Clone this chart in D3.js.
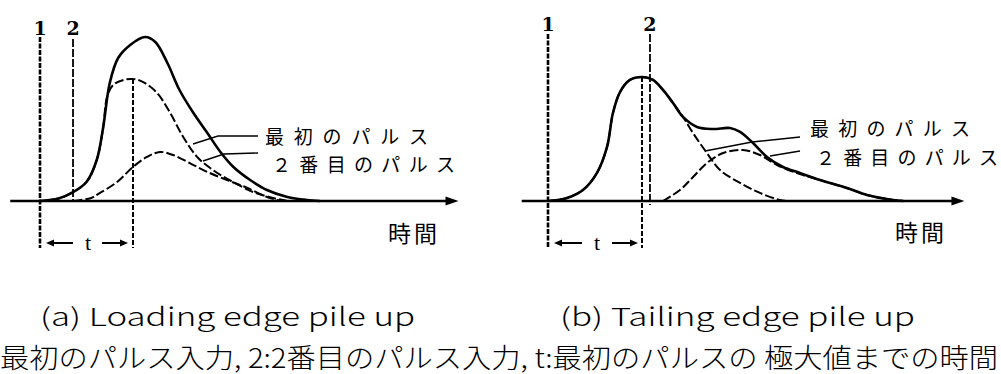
<!DOCTYPE html>
<html><head><meta charset="utf-8">
<script src="https://cdn.jsdelivr.net/npm/d3@7"></script>
<style>html,body{margin:0;padding:0;background:#fff;}svg{display:block;}</style>
</head><body><svg id="c" width="1001" height="374"></svg>
<script>
// ---- Data (time in units where t = 10, amplitude relative to first pulse peak) ----
// Panel (a): leading edge pile up
const sumTimeA   = [0, 2, 3.4, 5, 6.1, 6.8, 7.5, 8.4, 9.7, 11.3, 12.4, 13.7, 15, 16.5, 18, 19.4, 20.8, 22.6, 24.4, 26.6, 28.7, 30.1];
const sumValA    = [0, 0.02, 0.066, 0.156, 0.336, 0.607, 0.967, 1.172, 1.279, 1.344, 1.303, 1.131, 0.91, 0.721, 0.557, 0.402, 0.279, 0.172, 0.09, 0.033, 0.008, 0];
const firstTimeA = [0, 2, 3.4, 5, 6.1, 6.8, 7.2, 7.85, 8.9, 10, 11.1, 12.6, 14, 15.4, 16.9, 18.6, 20.75, 22.9, 25.05, 26.6];
const firstValA  = [0, 0.02, 0.066, 0.156, 0.336, 0.607, 0.85, 0.95, 0.99, 1.0, 0.975, 0.885, 0.721, 0.525, 0.361, 0.254, 0.156, 0.074, 0.025, 0];
const secondTimeA = [3.6, 5.5, 6.45, 8.3, 10, 11.5, 12.9, 14.3, 16.1, 18, 20.1, 22.3, 24.4, 25.5, 25.9];
const secondValA  = [0, 0.025, 0.066, 0.156, 0.279, 0.361, 0.402, 0.377, 0.311, 0.238, 0.172, 0.107, 0.033, 0.008, 0];
// Panel (b): tailing edge pile up
const sumTimeB   = [0, 2.02, 3.72, 5.21, 6.28, 6.91, 7.66, 8.72, 10, 11.17, 12.23, 13.3, 14.36, 15.85, 17.55, 19.36, 20.43, 21.81, 23.3, 25, 26.8, 28.94, 31.8, 33.94, 36.7, 37.8];
const sumValB    = [0, 0.025, 0.09, 0.23, 0.443, 0.721, 0.893, 0.992, 1.016, 0.992, 0.91, 0.803, 0.689, 0.607, 0.59, 0.598, 0.566, 0.475, 0.361, 0.279, 0.23, 0.172, 0.107, 0.049, 0.008, 0];
const firstTimeB = [0, 2.02, 3.72, 5.21, 6.28, 6.91, 7.66, 8.72, 10, 11.17, 12.23, 13.3, 14.36, 15.43, 16.91, 18.3, 20.43, 22.55, 24.68, 25.7];
const firstValB  = [0, 0.025, 0.09, 0.23, 0.443, 0.721, 0.893, 0.992, 1.016, 0.992, 0.91, 0.803, 0.689, 0.557, 0.393, 0.254, 0.148, 0.066, 0.008, 0];
const secondTimeB = [12.23, 14.04, 15.43, 16.91, 18.62, 20.74, 22.55, 24.36, 26.8, 28.94, 31.8, 33.94, 36.7, 37.8];
const secondValB  = [0, 0.09, 0.197, 0.311, 0.393, 0.418, 0.377, 0.295, 0.22, 0.172, 0.107, 0.049, 0.008, 0];
// Marker times: input 1, input 2, first-pulse maximum
const markerTimesA = [0, 3.55, 10];
const markerTimesB = [0, 10.85, 10];
const markerLabels = ["1", "2"];
const legendLabels = ["最初のパルス", "２番目のパルス"];
const axisLabel = "時間";
const tLabel = "t";
const captions = ["(a) Loading edge pile up", "(b) Tailing edge pile up"];
const footnote = "最初のパルス入力, 2:2番目のパルス入力, t:最初のパルスの 極大値までの時間";

const svg = d3.select("#c");
const y = d3.scaleLinear().domain([0, 1]).range([201, 79]);

const panels = [
  {x: d3.scaleLinear().domain([0, 10]).range([40, 133]), axis: [-3.2, 45],
   sum: [sumTimeA, sumValA], first: [firstTimeA, firstValA], second: [secondTimeA, secondValA],
   markers: markerTimesA, labelY: 28, top1: 37, top2: 39, line2Bottom: 201,
   leaders: [[[258,136],[218,136],[193,144]], [[258,153],[224,154],[203,161]]],
   legendPos: [[265,135,163],[272,163,183]], timePos: [388,232], arrowY: 243,
   tArrows: [46,73,88,102,128], caption: [40, 315, 375]},
  {x: d3.scaleLinear().domain([0, 10]).range([548, 642]), axis: [-2.8, 44.3],
   sum: [sumTimeB, sumValB], first: [firstTimeB, firstValB], second: [secondTimeB, secondValB],
   markers: markerTimesB, labelY: 24, top1: 34, top2: 34, line2Bottom: 205,
   leaders: [[[800,137],[752,142],[705,151]], [[800,151],[770,156]]],
   legendPos: [[810,127,160],[816,156,182]], timePos: [895,231], arrowY: 243,
   tArrows: [554,582,597,612,638], caption: [560, 315, 355]}
];

const line = xs => d3.line().x(d => xs(d[0])).y(d => y(d[1])).curve(d3.curveCatmullRom.alpha(0.5));
const zipPts = (t, v) => t.map((tt, i) => [tt, v[i]]);

panels.forEach(p => {
  const g = svg.append("g");
  // time axis with arrow
  const ax0 = p.x(p.axis[0]), ax1 = p.x(p.axis[1]);
  g.append("line").attr("x1", ax0).attr("x2", ax1 - 6).attr("y1", y(0)).attr("y2", y(0))
    .attr("stroke", "#000").attr("stroke-width", 2.4);
  g.append("path").attr("d", `M${ax1},${y(0)} L${ax1-13},${y(0)-4.5} L${ax1-13},${y(0)+4.5} Z`).attr("fill", "#000");

  // marker lines
  const m1 = p.x(p.markers[0]), m2 = p.x(p.markers[1]), mp = p.x(p.markers[2]);
  g.append("line").attr("x1", m1).attr("x2", m1).attr("y1", p.top1).attr("y2", 248)
    .attr("stroke", "#000").attr("stroke-width", 2.6).attr("stroke-dasharray", "5,1.5");
  g.append("line").attr("x1", m2).attr("x2", m2).attr("y1", p.top2).attr("y2", p.line2Bottom)
    .attr("stroke", "#000").attr("stroke-width", 1.8).attr("stroke-dasharray", "8,2");
  const peakVal = p.first[1][p.first[0].indexOf(p.markers[2])];
  g.append("line").attr("x1", mp).attr("x2", mp).attr("y1", y(peakVal)).attr("y2", 248)
    .attr("stroke", "#000").attr("stroke-width", 2).attr("stroke-dasharray", "5,2");
  [m1, m2].forEach((mx, i) => g.append("text").attr("x", mx).attr("y", p.labelY)
    .attr("text-anchor", "middle").attr("dominant-baseline", "central")
    .attr("font-family", "DejaVu Serif, Liberation Serif, serif").attr("font-weight", "bold")
    .attr("font-size", 19).text(markerLabels[i]));

  // pulses
  g.append("path").attr("d", line(p.x)(zipPts(...p.first))).attr("fill", "none")
    .attr("stroke", "#000").attr("stroke-width", 2).attr("stroke-dasharray", "9,3");
  g.append("path").attr("d", line(p.x)(zipPts(...p.second))).attr("fill", "none")
    .attr("stroke", "#000").attr("stroke-width", 2).attr("stroke-dasharray", "9,3");
  g.append("path").attr("d", line(p.x)(zipPts(...p.sum))).attr("fill", "none")
    .attr("stroke", "#000").attr("stroke-width", 2.6);

  // leaders
  p.leaders.forEach(pts => g.append("path").attr("d", d3.line()(pts)).attr("fill", "none")
    .attr("stroke", "#000").attr("stroke-width", 1.4));
  p.legendPos.forEach((lp, i) => g.append("text").attr("x", lp[0]).attr("y", lp[1])
    .attr("dominant-baseline", "central").attr("font-family", "Noto Sans CJK JP")
    .attr("font-size", 19).attr("textLength", lp[2]).attr("lengthAdjust", "spacing")
    .text(legendLabels[i]));
  g.append("text").attr("x", p.timePos[0]).attr("y", p.timePos[1]).attr("dominant-baseline", "central")
    .attr("font-family", "Noto Sans CJK JP").attr("font-size", 23).attr("textLength", 49)
    .attr("lengthAdjust", "spacing").text(axisLabel);

  // t interval arrows
  const ta = p.tArrows, ay = p.arrowY;
  g.append("line").attr("x1", ta[0] + 4).attr("x2", ta[1]).attr("y1", ay).attr("y2", ay).attr("stroke", "#000").attr("stroke-width", 2);
  g.append("path").attr("d", `M${ta[0]},${ay} L${ta[0]+8},${ay-3.5} L${ta[0]+8},${ay+3.5} Z`).attr("fill", "#000");
  g.append("line").attr("x1", ta[3]).attr("x2", ta[4] - 4).attr("y1", ay).attr("y2", ay).attr("stroke", "#000").attr("stroke-width", 2);
  g.append("path").attr("d", `M${ta[4]},${ay} L${ta[4]-8},${ay-3.5} L${ta[4]-8},${ay+3.5} Z`).attr("fill", "#000");
  g.append("text").attr("x", ta[2]).attr("y", ay - 1).attr("text-anchor", "middle").attr("dominant-baseline", "central")
    .attr("font-family", "Liberation Serif, serif").attr("font-size", 22).text(tLabel);
});

// captions
panels.forEach((p, i) => svg.append("text").attr("x", p.caption[0]).attr("y", p.caption[1])
  .attr("dominant-baseline", "central").attr("font-family", "Noto Sans CJK JP").attr("font-weight", 300)
  .attr("font-size", 25).attr("textLength", p.caption[2]).attr("lengthAdjust", "spacingAndGlyphs")
  .text(captions[i]));
svg.append("text").attr("x", 0).attr("y", 356).attr("dominant-baseline", "central")
  .attr("font-family", "Noto Sans CJK JP").attr("font-weight", 300).attr("font-size", 27)
  .attr("textLength", 998).attr("lengthAdjust", "spacingAndGlyphs").text(footnote);
</script></body></html>
